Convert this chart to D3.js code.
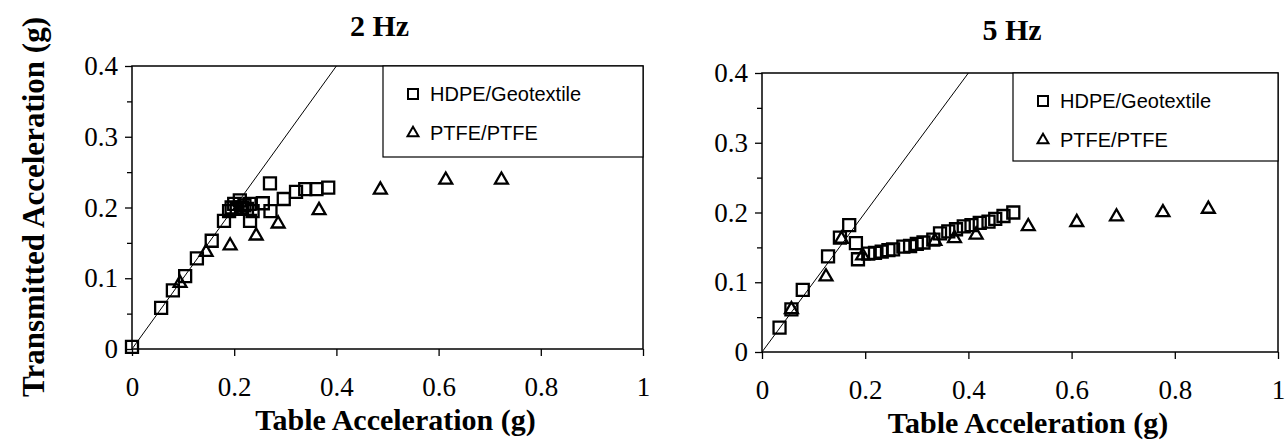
<!DOCTYPE html>
<html>
<head>
<meta charset="utf-8">
<script src="https://cdn.jsdelivr.net/npm/d3@7"></script>
<style>
  body { margin: 0; background: #fff; }
  svg { display: block; }
</style>
</head>
<body>
<script>
// tick values
const xTicks = [0, 0.2, 0.4, 0.6, 0.8, 1];
const yTicks = [0, 0.1, 0.2, 0.3, 0.4];
const yMinorTicks = [0.05, 0.15, 0.25, 0.35];

const seriesNames = ["HDPE/Geotextile", "PTFE/PTFE"];
const panelTitles = ["2 Hz", "5 Hz"];

// [table accel, transmitted accel]
const hdpe2Hz = [
  [0, 0.003], [0.057, 0.058], [0.080, 0.083], [0.104, 0.103], [0.127, 0.128],
  [0.156, 0.153], [0.180, 0.181], [0.190, 0.195], [0.195, 0.200], [0.200, 0.205],
  [0.205, 0.198], [0.211, 0.210], [0.215, 0.200], [0.220, 0.203], [0.225, 0.198],
  [0.230, 0.205], [0.236, 0.195], [0.231, 0.181], [0.256, 0.206], [0.270, 0.234],
  [0.271, 0.195], [0.297, 0.212], [0.321, 0.222], [0.339, 0.226], [0.361, 0.226],
  [0.384, 0.228]
];
const ptfe2Hz = [
  [0.094, 0.093], [0.145, 0.137], [0.192, 0.146], [0.243, 0.160], [0.286, 0.177],
  [0.366, 0.196], [0.486, 0.225], [0.614, 0.239], [0.723, 0.239]
];
const hdpe5Hz = [
  [0.034, 0.035], [0.057, 0.061], [0.079, 0.089], [0.128, 0.137], [0.151, 0.164],
  [0.169, 0.182], [0.182, 0.156], [0.186, 0.133], [0.206, 0.141], [0.219, 0.142],
  [0.232, 0.144], [0.245, 0.146], [0.254, 0.147], [0.274, 0.151], [0.287, 0.152],
  [0.300, 0.155], [0.313, 0.157], [0.332, 0.161], [0.345, 0.170], [0.361, 0.173],
  [0.376, 0.176], [0.391, 0.180], [0.406, 0.182], [0.422, 0.185], [0.439, 0.187],
  [0.452, 0.191], [0.468, 0.195], [0.487, 0.200]
];
const ptfe5Hz = [
  [0.057, 0.061], [0.124, 0.108], [0.154, 0.162], [0.195, 0.138], [0.335, 0.159],
  [0.373, 0.163], [0.415, 0.168], [0.516, 0.180], [0.610, 0.186], [0.687, 0.194],
  [0.777, 0.200], [0.865, 0.205]
];

const width = 1286;
const height = 443;

const svg = d3.select("body").append("svg").attr("width", width).attr("height", height);

const serif = "'Liberation Serif', 'Times New Roman', serif";
const sans = "'Liberation Sans', Arial, sans-serif";

const square = d3.symbol().type(d3.symbolSquare).size(144);
const triangle = d3.symbol().type(d3.symbolTriangle).size(72);
const legendSquare = d3.symbol().type(d3.symbolSquare).size(100);
const legendTriangle = d3.symbol().type(d3.symbolTriangle).size(52);

const panels = [
  { title: panelTitles[0], hdpe: hdpe2Hz, ptfe: ptfe2Hz, left: 132, right: 643, top: 66, bottom: 349, titleY: 36, legendLeft: 383, legendBottom: 157 },
  { title: panelTitles[1], hdpe: hdpe5Hz, ptfe: ptfe5Hz, left: 762, right: 1278, top: 73, bottom: 352, titleY: 40, legendLeft: 1013, legendBottom: 161 }
];

panels.forEach((p, i) => drawPanel(p, i));

// y axis title, shared on the far left
svg.append("text")
  .attr("transform", `translate(44, 207) rotate(-90)`)
  .attr("text-anchor", "middle")
  .attr("font-family", serif)
  .attr("font-weight", "bold")
  .attr("font-size", "31px")
  .text("Transmitted Acceleration (g)");

function drawPanel(p, i) {
  const xScale = d3.scaleLinear().domain([0, 1]).range([p.left, p.right]);
  const yScale = d3.scaleLinear().domain([0, 0.4]).range([p.bottom, p.top]);

  const g = svg.append("g");

  // y axis, major + minor ticks
  g.append("g").attr("transform", `translate(${p.left}, 0)`)
    .call(d3.axisLeft(yScale).tickValues(yTicks).tickSize(7).tickPadding(7).tickFormat(d => String(d)));
  g.append("g").attr("transform", `translate(${p.left}, 0)`)
    .call(d3.axisLeft(yScale).tickValues(yMinorTicks).tickSize(5).tickFormat(""));

  g.append("g").attr("transform", `translate(0, ${p.bottom})`)
    .call(d3.axisBottom(xScale).tickValues(xTicks).tickSize(7).tickPadding(21).tickFormat(d => String(d)));

  g.selectAll(".domain").remove();
  g.selectAll(".tick line").attr("stroke", "#000").attr("stroke-width", 1.3);
  g.selectAll(".tick text")
    .attr("fill", "#000")
    .attr("font-family", serif)
    .attr("font-size", "27px");

  // plot frame
  g.append("rect")
    .attr("x", p.left).attr("y", p.top)
    .attr("width", p.right - p.left).attr("height", p.bottom - p.top)
    .attr("fill", "none").attr("stroke", "#000").attr("stroke-width", 1.5);

  // 1:1 line
  const clipId = `clip-${i}`;
  g.append("clipPath").attr("id", clipId).append("rect")
    .attr("x", p.left).attr("y", p.top)
    .attr("width", p.right - p.left).attr("height", p.bottom - p.top);
  g.append("line")
    .attr("clip-path", `url(#${clipId})`)
    .attr("x1", xScale(0)).attr("y1", yScale(0))
    .attr("x2", xScale(0.5)).attr("y2", yScale(0.5))
    .attr("stroke", "#000").attr("stroke-width", 1);

  // data
  g.selectAll(".hdpe").data(p.hdpe).enter()
    .append("path")
    .attr("class", "hdpe")
    .attr("d", square)
    .attr("transform", d => `translate(${xScale(d[0])}, ${yScale(d[1])})`)
    .attr("fill", "none").attr("stroke", "#000").attr("stroke-width", 2.3);

  g.selectAll(".ptfe").data(p.ptfe).enter()
    .append("path")
    .attr("class", "ptfe")
    .attr("d", triangle)
    .attr("transform", d => `translate(${xScale(d[0])}, ${yScale(d[1])})`)
    .attr("fill", "none").attr("stroke", "#000").attr("stroke-width", 2.3);

  // legend
  const legend = g.append("g");
  legend.append("rect")
    .attr("x", p.legendLeft).attr("y", p.top)
    .attr("width", p.right - p.legendLeft).attr("height", p.legendBottom - p.top)
    .attr("fill", "#fff").attr("stroke", "#000").attr("stroke-width", 1.2);
  const rows = [
    { name: seriesNames[0], sym: legendSquare, dy: 28 },
    { name: seriesNames[1], sym: legendTriangle, dy: 67 }
  ];
  rows.forEach(r => {
    legend.append("path")
      .attr("d", r.sym)
      .attr("transform", `translate(${p.legendLeft + 30}, ${p.top + r.dy})`)
      .attr("fill", "none").attr("stroke", "#000").attr("stroke-width", 2);
    legend.append("text")
      .attr("x", p.legendLeft + 47).attr("y", p.top + r.dy + 7)
      .attr("font-family", sans).attr("font-size", "20px")
      .text(r.name);
  });

  // titles
  g.append("text")
    .attr("x", (p.left + p.right) / 2 - 8).attr("y", p.titleY)
    .attr("text-anchor", "middle")
    .attr("font-family", serif).attr("font-weight", "bold").attr("font-size", "30px")
    .text(p.title);

  g.append("text")
    .attr("x", (p.left + p.right) / 2 + 8).attr("y", p.bottom + 81)
    .attr("text-anchor", "middle")
    .attr("font-family", serif).attr("font-weight", "bold").attr("font-size", "30px")
    .text("Table Acceleration (g)");
}
</script>
</body>
</html>
